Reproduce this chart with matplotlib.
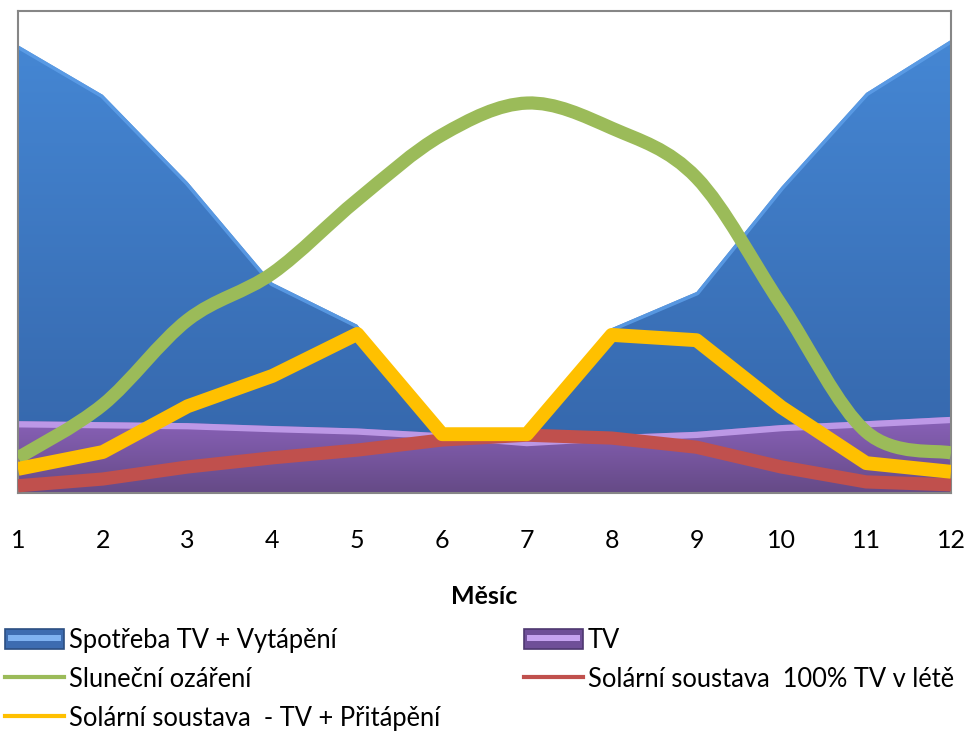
import numpy as np
import matplotlib.pyplot as plt
from matplotlib.colors import LinearSegmentedColormap
from matplotlib.path import Path
from matplotlib.patches import PathPatch, Rectangle
from matplotlib.lines import Line2D
from matplotlib.legend_handler import HandlerBase

plt.rcParams['font.family'] = ['Lato', 'DejaVu Sans']

mesice = np.arange(1, 13)
spotreba_tv_vytapeni = [92.9, 82.6, 64.5, 43.6, 34.9, 12.4, 11.0, 34.2, 41.7, 63.5, 83.0, 94.0]
tv = [14.9, 14.7, 14.5, 13.9, 13.4, 12.4, 11.0, 12.0, 12.7, 14.1, 14.9, 15.8]
slunecni_ozareni = [7.3, 18.3, 35.9, 45.6, 60.8, 74.3, 80.9, 75.7, 65.4, 39.0, 12.7, 8.3]
solar_pritapeni = [5.0, 8.5, 18.0, 24.3, 33.0, 12.2, 12.2, 32.8, 31.7, 17.8, 6.2, 4.4]
solar_tv_leto = [1.5, 2.9, 5.4, 7.3, 8.9, 11.0, 12.0, 11.4, 9.5, 5.4, 2.3, 1.7]

popisky = ['Spotřeba TV + Vytápění', 'Sluneční ozáření',
           'Solární soustava  - TV + Přitápění', 'TV',
           'Solární soustava  100% TV v létě']


def gradient_area(ax, x, y, top, bottom, rim, rim_lw, z):
    # plocha s vertikalnim prechodem barvy, orezana na polygon serie
    poly = ax.fill_between(x, 0, y, facecolor='none', edgecolor='none', zorder=z)
    path = poly.get_paths()[0]
    cmap = LinearSegmentedColormap.from_list('g', [bottom, top])
    grad = np.linspace(0, 1, 256).reshape(-1, 1)
    im = ax.imshow(grad, cmap=cmap, aspect='auto', origin='lower',
                   extent=[x[0], x[-1], 0, max(y)], zorder=z, interpolation='bilinear')
    im.set_clip_path(path, ax.transData)
    okraj, = ax.plot(x, y, color=rim, lw=rim_lw, alpha=0.85, zorder=z + 0.1,
                     solid_joinstyle='round')
    okraj.set_clip_path(path, ax.transData)


def smooth_path(x, y):
    # vyhlazena krivka jako v Excelu (Bezier pres body serie)
    pts = np.column_stack([x, y]).astype(float)
    n = len(pts)
    verts = [pts[0]]
    codes = [Path.MOVETO]
    for i in range(n - 1):
        p0 = pts[max(i - 1, 0)]
        p1 = pts[i]
        p2 = pts[i + 1]
        p3 = pts[min(i + 2, n - 1)]
        verts += [p1 + (p2 - p0) / 6, p2 - (p3 - p1) / 6, p2]
        codes += [Path.CURVE4] * 3
    return Path(verts, codes)


class BevelBox(HandlerBase):
    def __init__(self, face, light, edge):
        super().__init__()
        self.face, self.light, self.edge = face, light, edge

    def create_artists(self, legend, orig_handle, xdescent, ydescent,
                       width, height, fontsize, trans):
        outer = Rectangle((-xdescent, -ydescent), width, height, facecolor=self.face,
                          edgecolor=self.edge, lw=1.2, transform=trans)
        inner = Rectangle((-xdescent + width * 0.05, -ydescent + height * 0.4),
                          width * 0.9, height * 0.3, facecolor=self.light,
                          edgecolor='none', transform=trans)
        return [outer, inner]


fig = plt.figure(figsize=(9.67, 7.33), dpi=100)
ax = fig.add_axes([18 / 967, 1 - 493 / 733, (951 - 18) / 967, (493 - 11) / 733])

gradient_area(ax, mesice, spotreba_tv_vytapeni, '#4587d4', '#3464a8', '#5d9ee8', 5, 1)
gradient_area(ax, mesice, tv, '#8a62ba', '#654a86', '#c7a3f0', 9, 2)

ax.add_patch(PathPatch(smooth_path(mesice, slunecni_ozareni), fill=False,
                       edgecolor='#9bbb59', lw=9.5, zorder=3, capstyle='butt'))
ax.plot(mesice, solar_tv_leto, color='#c0504d', lw=9.5, zorder=4,
        solid_joinstyle='round', solid_capstyle='butt')
ax.plot(mesice, solar_pritapeni, color='#ffc000', lw=10, zorder=5,
        solid_joinstyle='round', solid_capstyle='butt')

ax.set_xlim(1, 12)
ax.set_ylim(0, 100)
ax.set_xticks(mesice)
ax.set_yticks([])
ax.tick_params(axis='x', length=0, labelsize=18, pad=26)
for s in ax.spines.values():
    s.set_color('#868686')
    s.set_linewidth(1.5)
ax.set_xlabel('Měsíc', fontsize=18, fontweight='bold', labelpad=24)

h_modra = Rectangle((0, 0), 1, 1)
h_fial = Rectangle((0, 0), 1, 1)
h_zelena = Line2D([], [], color='#9bbb59', lw=3)
h_oranz = Line2D([], [], color='#ffc000', lw=3)
h_cervena = Line2D([], [], color='#c0504d', lw=3)
hmap = {h_modra: BevelBox('#3d6cb0', '#7fb2f0', '#2c4f82'),
        h_fial: BevelBox('#6f4f98', '#c6a3f0', '#4e3870')}

opts = dict(loc='upper left', frameon=False, fontsize=18.4, handlelength=2.3,
            handleheight=0.8, handletextpad=0.2, labelspacing=0.54,
            borderpad=0, borderaxespad=0, handler_map=hmap)
fig.legend([h_modra, h_zelena, h_oranz], popisky[:3],
           bbox_to_anchor=(5 / 967, 1 - 628 / 733), **opts)
fig.legend([h_fial, h_cervena], popisky[3:],
           bbox_to_anchor=(524 / 967, 1 - 628 / 733), **opts)

fig.savefig('out.png', dpi=100)
